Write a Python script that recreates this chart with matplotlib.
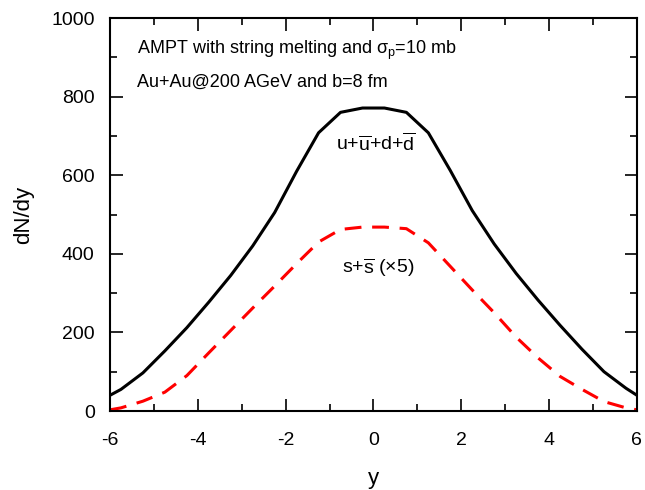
import numpy as np
import matplotlib
matplotlib.use("Agg")
import matplotlib.pyplot as plt
from matplotlib.ticker import MultipleLocator

plt.rcParams['font.family'] = ['Liberation Sans', 'DejaVu Sans']
plt.rcParams['mathtext.fontset'] = 'custom'
plt.rcParams['mathtext.rm'] = 'Liberation Sans'
plt.rcParams['mathtext.it'] = 'Liberation Sans:italic'
plt.rcParams['axes.unicode_minus'] = False

# rapidity bins
y_vals = [-6, -5.75, -5.25, -4.75, -4.25, -3.75, -3.25, -2.75, -2.25, -1.75, -1.25, -0.75, -0.25,
          0.25, 0.75, 1.25, 1.75, 2.25, 2.75, 3.25, 3.75, 4.25, 4.75, 5.25, 5.75, 6]
# u+ubar+d+dbar
light_quarks = [40, 55, 97, 153, 212, 277, 345, 420, 505, 610, 708, 760, 771,
                771, 760, 708, 612, 510, 425, 350, 282, 218, 157, 100, 58, 40]
# s+sbar (x5)
strange_quarks = [3, 8, 25, 48, 90, 148, 205, 262, 318, 375, 430, 462, 468,
                  468, 464, 428, 368, 308, 250, 188, 135, 88, 55, 24, 8, 3]

fig = plt.figure(figsize=(6.45, 4.9), dpi=100)
ax = fig.add_axes([0.1705, 0.1612, 0.817, 0.802])

ax.plot(y_vals, light_quarks, color='black', lw=2.2)
ax.plot(y_vals, strange_quarks, color='red', lw=2.2, dashes=(5.5, 3.5))

ax.set_xlim(-6, 6)
ax.set_ylim(0, 1000)
ax.xaxis.set_major_locator(MultipleLocator(2))
ax.xaxis.set_minor_locator(MultipleLocator(1))
ax.yaxis.set_major_locator(MultipleLocator(200))
ax.yaxis.set_minor_locator(MultipleLocator(100))
ax.tick_params(which='both', direction='in', top=True, right=True, width=1.2)
ax.tick_params(which='major', length=9, labelsize=14, pad=11)
ax.tick_params(axis='x', which='major', pad=15)
ax.tick_params(which='minor', length=5)
for sp in ax.spines.values():
    sp.set_linewidth(1.5)

ax.set_xlabel('y', fontsize=16, labelpad=14)
ax.set_ylabel('dN/dy', fontsize=16, labelpad=12)

ax.text(0.051, 0.918, 'AMPT with string melting and σ$_{\\rm p}$=10 mb',
        transform=ax.transAxes, fontsize=13, va='center')
ax.text(0.051, 0.837, 'Au+Au@200 AGeV and b=8 fm',
        transform=ax.transAxes, fontsize=13, va='center')
ax.text(0.05, 682, r'u+$\overline{\rm u}$+d+$\overline{\rm d}$', fontsize=14, ha='center', va='center')
ax.text(0.1, 365, r's+$\overline{\rm s}$ (×5)', fontsize=14, ha='center', va='center')

fig.savefig('out.png', dpi=100)
